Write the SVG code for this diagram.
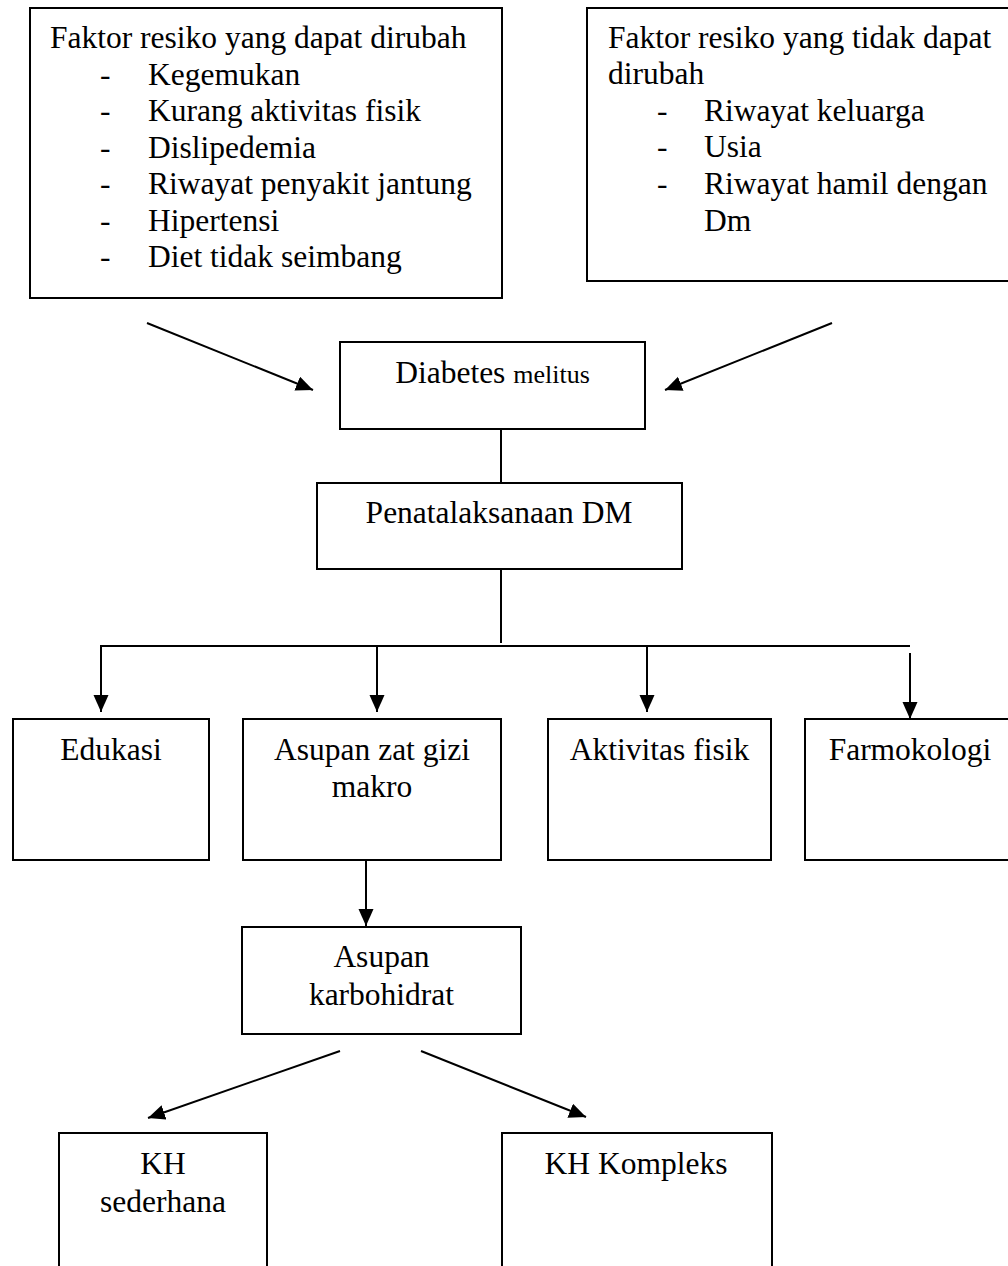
<svg xmlns="http://www.w3.org/2000/svg" width="1008" height="1266" viewBox="0 0 1008 1266">
<style>
.box{fill:#fff;stroke:#000;stroke-width:2}
.t{font-family:"Liberation Serif","Times New Roman",serif;font-size:31.5px;fill:#000}
.c{text-anchor:middle}
.ln{stroke:#000;stroke-width:2;fill:none}
.ar{stroke:#000;stroke-width:2;fill:none;marker-end:url(#ah)}
</style>
<defs>
<marker id="ah" markerUnits="userSpaceOnUse" markerWidth="19" markerHeight="16" refX="17" refY="7.5" orient="auto">
<path d="M0,0 L17,7.5 L0,15 z" fill="#000"/>
</marker>
</defs>
<rect width="1008" height="1266" fill="#fff"/>

<g id="connectors">
<line class="ar" x1="147" y1="323" x2="313" y2="390"/>
<line class="ar" x1="832" y1="323" x2="665" y2="390"/>
<line class="ln" x1="501" y1="429" x2="501" y2="483"/>
<line class="ln" x1="501" y1="569" x2="501" y2="643"/>
<line class="ln" x1="100" y1="646" x2="910" y2="646"/>
<line class="ar" x1="101" y1="646" x2="101" y2="712"/>
<line class="ar" x1="377" y1="646" x2="377" y2="712"/>
<line class="ar" x1="647" y1="646" x2="647" y2="712"/>
<line class="ar" x1="910" y1="653" x2="910" y2="719"/>
<line class="ar" x1="366" y1="860" x2="366" y2="926"/>
<line class="ar" x1="340" y1="1051" x2="148" y2="1118"/>
<line class="ar" x1="421" y1="1051" x2="586" y2="1117"/>
</g>

<g id="faktor-dapat-dirubah">
<rect class="box" x="30" y="8" width="472" height="290"/>
<text class="t" x="50" y="48">Faktor resiko yang dapat dirubah</text>
<text class="t" x="100" y="84.5">-</text><text class="t" x="148" y="84.5">Kegemukan</text>
<text class="t" x="100" y="121">-</text><text class="t" x="148" y="121">Kurang aktivitas fisik</text>
<text class="t" x="100" y="157.5">-</text><text class="t" x="148" y="157.5">Dislipedemia</text>
<text class="t" x="100" y="194">-</text><text class="t" x="148" y="194">Riwayat penyakit jantung</text>
<text class="t" x="100" y="230.5">-</text><text class="t" x="148" y="230.5">Hipertensi</text>
<text class="t" x="100" y="267">-</text><text class="t" x="148" y="267">Diet tidak seimbang</text>
</g>

<g id="faktor-tidak-dapat-dirubah">
<rect class="box" x="587" y="8" width="430" height="273"/>
<text class="t" x="608" y="48">Faktor resiko yang tidak dapat</text>
<text class="t" x="608" y="84">dirubah</text>
<text class="t" x="657" y="120.5">-</text><text class="t" x="704" y="120.5">Riwayat keluarga</text>
<text class="t" x="657" y="157">-</text><text class="t" x="704" y="157">Usia</text>
<text class="t" x="657" y="194">-</text><text class="t" x="704" y="194">Riwayat hamil dengan</text>
<text class="t" x="704" y="231">Dm</text>
</g>

<g id="diabetes-melitus">
<rect class="box" x="340" y="342" width="305" height="87"/>
<text class="t c" x="492.5" y="383">Diabetes <tspan style="font-size:26px">melitus</tspan></text>
</g>

<g id="penatalaksanaan">
<rect class="box" x="317" y="483" width="365" height="86"/>
<text class="t c" x="499" y="523">Penatalaksanaan DM</text>
</g>

<g id="edukasi">
<rect class="box" x="13" y="719" width="196" height="141"/>
<text class="t c" x="111" y="760">Edukasi</text>
</g>

<g id="asupan-gizi-makro">
<rect class="box" x="243" y="719" width="258" height="141"/>
<text class="t c" x="372" y="760">Asupan zat gizi</text>
<text class="t c" x="372" y="797">makro</text>
</g>

<g id="aktivitas-fisik">
<rect class="box" x="548" y="719" width="223" height="141"/>
<text class="t c" x="659.5" y="760">Aktivitas fisik</text>
</g>

<g id="farmokologi">
<rect class="box" x="805" y="719" width="215" height="141"/>
<text class="t c" x="910" y="760">Farmokologi</text>
</g>

<g id="asupan-karbohidrat">
<rect class="box" x="242" y="927" width="279" height="107"/>
<text class="t c" x="381.5" y="967">Asupan</text>
<text class="t c" x="381.5" y="1005">karbohidrat</text>
</g>

<g id="kh-sederhana">
<rect class="box" x="59" y="1133" width="208" height="145"/>
<text class="t c" x="163" y="1174">KH</text>
<text class="t c" x="163" y="1212">sederhana</text>
</g>

<g id="kh-kompleks">
<rect class="box" x="502" y="1133" width="270" height="145"/>
<text class="t c" x="636" y="1174">KH Kompleks</text>
</g>
</svg>
